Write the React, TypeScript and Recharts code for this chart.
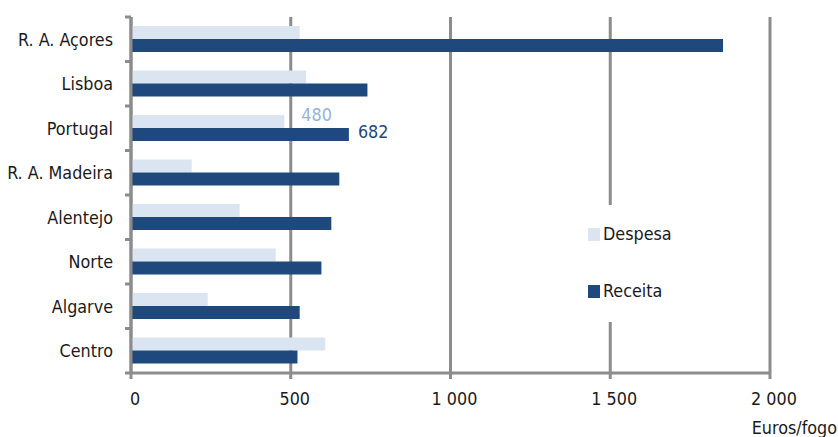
import React from 'react';
import { BarChart, Bar, XAxis, YAxis, CartesianGrid, Legend, LabelList } from 'recharts';

const regions = ['R. A. Açores', 'Lisboa', 'Portugal', 'R. A. Madeira', 'Alentejo', 'Norte', 'Algarve', 'Centro'];
const despesa = [528, 548, 480, 190, 340, 453, 240, 608];
const receita = [1853, 740, 682, 652, 627, 596, 528, 521];
const despesaLabels = [null, null, '480', null, null, null, null, null];
const receitaLabels = [null, null, '682', null, null, null, null, null];
const xTicks = [0, 500, 1000, 1500, 2000];
const seriesNames = ['Despesa', 'Receita'];
const seriesColors = ['#dbe5f1', '#1f497d'];
const labelColors = ['#95b3d7', '#1f497d'];

const data = regions.map((r, i) => ({
  region: r,
  despesa: despesa[i],
  receita: receita[i],
  despesaLabel: despesaLabels[i],
  receitaLabel: receitaLabels[i],
}));

const FONT = "'DejaVu Sans Condensed', 'DejaVu Sans', sans-serif";
const FS = 17.8;
const GRAY = '#8c8c8c';
const TEXT = '#1a1a1a';

const fmt = (v: number) => String(v).replace(/\B(?=(\d{3})+(?!\d))/g, ' ');

const YTick = (props: any) => {
  const { x, y, payload, index, visibleTicksCount } = props;
  const half = payload && typeof payload.offset === 'number' && payload.offset > 0 ? payload.offset : 22.25;
  const ax = x + 18;
  const isLast = index === (visibleTicksCount ?? regions.length) - 1;
  return (
    <g>
      <line x1={ax - 6} x2={ax} y1={y - half} y2={y - half} stroke={GRAY} strokeWidth={3} />
      {isLast && <line x1={ax - 6} x2={ax} y1={y + half} y2={y + half} stroke={GRAY} strokeWidth={3} />}
      <text x={x} y={y} textAnchor="end" dominantBaseline="central" fill={TEXT} fontSize={FS} fontFamily={FONT}>
        {payload.value}
      </text>
    </g>
  );
};

const makeLabel = (color: string, dx: number, dy: number) => (props: any) => {
  const { x, y, width, height, value } = props;
  if (value === null || value === undefined || value === '') return null;
  return (
    <text
      x={Number(x) + Number(width) + dx}
      y={Number(y) + Number(height) / 2 + dy}
      fill={color}
      fontSize={FS}
      fontFamily={FONT}
      dominantBaseline="central"
    >
      {value}
    </text>
  );
};

const LegendContent = () => (
  <div style={{ width: 95, height: 117, background: '#fff', position: 'relative', fontFamily: FONT, fontSize: FS, color: TEXT }}>
    {seriesNames.map((n, i) => (
      <div
        key={n}
        style={{ position: 'absolute', left: 4, top: 22 + i * 57, height: 14, display: 'flex', alignItems: 'center', whiteSpace: 'nowrap' }}
      >
        <span style={{ display: 'inline-block', width: 12, height: 13, background: seriesColors[i], marginRight: 3 }} />
        <span style={{ lineHeight: '14px' }}>{n}</span>
      </div>
    ))}
  </div>
);

export default function App() {
  return (
    <div style={{ position: 'absolute', left: 0, top: 0, width: 838, height: 437, background: '#fff' }}>
      <BarChart
        width={838}
        height={437}
        data={data}
        layout="vertical"
        margin={{ top: 17, right: 68, bottom: 34, left: 0 }}
        barGap={0}
        barSize={13}
      >
        <CartesianGrid horizontal={false} stroke={GRAY} strokeWidth={3} />
        <XAxis
          type="number"
          domain={[0, 2000]}
          ticks={xTicks}
          tickFormatter={fmt}
          axisLine={{ stroke: GRAY, strokeWidth: 3 }}
          tickLine={{ stroke: GRAY, strokeWidth: 3 }}
          tickSize={6}
          tickMargin={13}
          height={30}
          tick={{ fill: TEXT, fontSize: FS, fontFamily: FONT, dx: 4 }}
          interval={0}
          label={{ value: 'Euros/fogo', position: 'insideBottomRight', offset: 0, dx: 67, dy: 31, fill: TEXT, fontSize: FS, fontFamily: FONT }}
        />
        <YAxis
          type="category"
          dataKey="region"
          width={131}
          axisLine={{ stroke: GRAY, strokeWidth: 3 }}
          tickLine={false}
          tickSize={6}
          tickMargin={12}
          tick={<YTick />}
          interval={0}
        />
        <Legend
          layout="vertical"
          verticalAlign="middle"
          align="center"
          content={<LegendContent />}
          wrapperStyle={{ left: 584, top: 205, width: 95, height: 117 }}
        />
        <Bar dataKey="despesa" name={seriesNames[0]} fill={seriesColors[0]} isAnimationActive={false}>
          <LabelList dataKey="despesaLabel" content={makeLabel(labelColors[0], 17, -7)} />
        </Bar>
        <Bar dataKey="receita" name={seriesNames[1]} fill={seriesColors[1]} isAnimationActive={false}>
          <LabelList dataKey="receitaLabel" content={makeLabel(labelColors[1], 9, -3)} />
        </Bar>
      </BarChart>
    </div>
  );
}
